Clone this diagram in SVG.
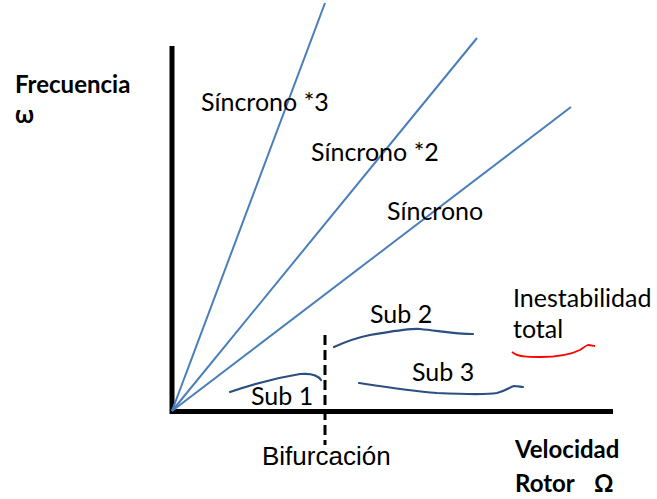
<svg xmlns="http://www.w3.org/2000/svg" width="657" height="499" viewBox="0 0 657 499">
<style>
.lbl{font-family:Lato,"Open Sans","Liberation Sans",sans-serif;font-size:25px;fill:#000}
.bold{font-family:Lato,"Open Sans","Liberation Sans",sans-serif;font-size:24px;font-weight:bold;fill:#000}
.ray{stroke:#4a7ebb;stroke-width:2;fill:none}
.sub{stroke:#2a4f80;stroke-width:2.2;fill:none;stroke-linecap:round}
</style>
<rect width="657" height="499" fill="#fff"/>
<g id="axes">
<line x1="172" y1="46" x2="172" y2="414" stroke="#000" stroke-width="5"/>
<line x1="170" y1="411.5" x2="613" y2="411.5" stroke="#000" stroke-width="5"/>
</g>
<g id="connectors">
<line class="ray" x1="172" y1="411" x2="325" y2="3"/>
<line class="ray" x1="172" y1="411" x2="477" y2="38"/>
<line class="ray" x1="172" y1="411" x2="571" y2="107"/>
<path class="sub" d="M230 392 C250 385 275 378 300 374 C312 373 318 375 321 380"/>
<path class="sub" d="M334 347 C345 342 355 338 370 335 C395 331 410 328 420 329 C440 331 455 334 473 334"/>
<path class="sub" d="M359 383 C385 387 410 391 437 393 C460 394 485 395 497 393 C505 391 510 387 514 386 C518 386 521 387 523 387"/>
<line x1="325" y1="335" x2="325" y2="445" stroke="#000" stroke-width="3" stroke-dasharray="10 5"/>
<path d="M512 352 C518 357 528 357 540 357 C560 357 572 354 580 350 C583 348 585 346 588 345 C591 345 593 346 595 346" stroke="#f00" stroke-width="1.8" fill="none"/>
</g>
<g id="sync3"><text class="lbl" x="201" y="111">Síncrono *3</text></g>
<g id="sync2"><text class="lbl" x="311" y="161">Síncrono *2</text></g>
<g id="sync1"><text class="lbl" x="387" y="220">Síncrono</text></g>
<g id="sub1"><text class="lbl" x="251" y="405">Sub 1</text></g>
<g id="sub2"><text class="lbl" x="370" y="323">Sub 2</text></g>
<g id="sub3"><text class="lbl" x="412" y="381">Sub 3</text></g>
<g id="inest"><text class="lbl" x="513" y="307">Inestabilidad</text><text class="lbl" x="513" y="338">total</text></g>
<g id="freq"><text class="bold" x="15" y="93">Frecuencia</text><text class="bold" x="15" y="123">ω</text></g>
<g id="vel"><text class="bold" x="515" y="458">Velocidad</text><text class="bold" x="515" y="492">Rotor</text><text class="bold" x="594" y="492" font-size="25">Ω</text></g>
<g id="bif"><text x="262" y="465" font-family="'Liberation Sans',Arial,sans-serif" font-size="26" fill="#000">Bifurcación</text></g>
</svg>
